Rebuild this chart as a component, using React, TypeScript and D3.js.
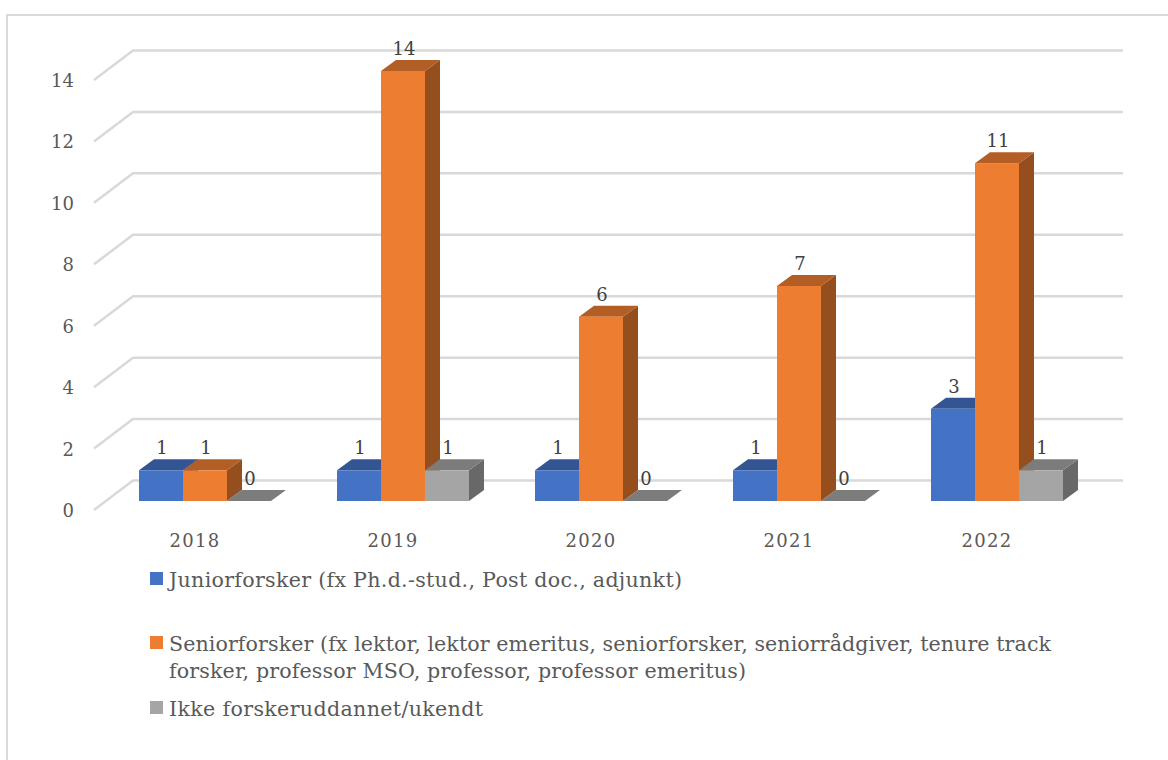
import * as d3 from "d3";

const years = ["2018", "2019", "2020", "2021", "2022"];
const seriesNames = ["junior", "senior", "other"];
const junior = [1, 1, 1, 1, 3];
const senior = [1, 14, 6, 7, 11];
const other = [0, 1, 0, 0, 1];
const yTicks = [0, 2, 4, 6, 8, 10, 12, 14];
const legendLines = [
  { key: "junior", lines: ["Juniorforsker (fx Ph.d.-stud., Post doc., adjunkt)"], widths: [513] },
  {
    key: "senior",
    lines: [
      "Seniorforsker (fx lektor, lektor emeritus, seniorforsker, seniorrådgiver, tenure track",
      "forsker, professor MSO, professor, professor emeritus)",
    ],
    widths: [882, 577],
  },
  { key: "other", lines: ["Ikke forskeruddannet/ukendt"], widths: [314] },
];

const colors: Record<string, { front: string; top: string; side: string }> = {
  junior: { front: "#4472C4", top: "#335593", side: "#2a4a80" },
  senior: { front: "#ED7D31", top: "#B25E25", side: "#954F1F" },
  other: { front: "#A5A5A5", top: "#7C7C7C", side: "#686868" },
};

const serif = "'DejaVu Serif', serif";

// 3D offset of the bars and of the back wall
const depthX = 15;
const depthY = -11;
const wallX = 133;
const wallLeft = 94;
const wallRight = 1123;
const wallDy = -20.5;
const wallFloorDy = 9;

export default function App() {
  const x0 = d3.scaleBand<string>().domain(years).range([106, 1096]).paddingInner(1 / 3).paddingOuter(1 / 6);
  const x1 = d3.scaleBand<string>().domain(seriesNames).range([0, x0.bandwidth()]);
  const y = d3.scaleLinear().domain([0, 14]).range([501, 71]);
  const values: Record<string, number[]> = { junior, senior, other };
  const line = d3.line();

  return (
    <div style={{ position: "fixed", left: 0, top: 0 }}>
      <svg width={1168} height={760} style={{ display: "block", background: "#fff" }}>
        <rect x={7} y={15} width={1180} height={770} fill="#fff" stroke="#D9D9D9" strokeWidth={2} />

        {yTicks.map((t) => (
          <g key={t}>
            <path
              d={line([
                [wallLeft, y(t) + wallFloorDy],
                [wallX, y(t) + wallDy],
                [wallRight, y(t) + wallDy],
              ]) || ""}
              fill="none"
              stroke="#D9D9D9"
              strokeWidth={2.5}
            />
            <text
              x={74}
              y={y(t) + 16}
              textAnchor="end"
              fontFamily={serif}
              fontSize={18}
              fill="#595959"
            >
              {t}
            </text>
          </g>
        ))}

        {years.map((yr, i) => (
          <g key={yr}>
            {seriesNames.map((s) => {
              const v = values[s][i];
              const left = (x0(yr) || 0) + (x1(s) || 0);
              const right = left + x1.bandwidth();
              const base = y(0);
              const top = y(v);
              const c = colors[s];
              return (
                <g key={s}>
                  <path
                    d={line([[right, base], [right + depthX, base + depthY], [right + depthX, top + depthY], [right, top]]) + "Z"}
                    fill={c.side}
                  />
                  <path
                    d={line([[left, top], [left + depthX, top + depthY], [right + depthX, top + depthY], [right, top]]) + "Z"}
                    fill={c.top}
                  />
                  <rect x={left} y={top} width={x1.bandwidth()} height={base - top} fill={c.front} />
                </g>
              );
            })}
            <text
              x={(x0(yr) || 0) + x0.bandwidth() / 2 - 10}
              y={547}
              textAnchor="middle"
              fontFamily={serif}
              fontSize={18}
              letterSpacing={1.3}
              fill="#595959"
            >
              {yr}
            </text>
          </g>
        ))}

        {years.map((yr, i) =>
          seriesNames.map((s) => {
            const v = values[s][i];
            return (
              <text
                key={yr + s}
                x={(x0(yr) || 0) + (x1(s) || 0) + x1.bandwidth() / 2 + 1}
                y={y(v) - 16}
                textAnchor="middle"
                fontFamily={serif}
                fontSize={18}
                fill="#404040"
              >
                {v}
              </text>
            );
          })
        )}

        {legendLines.map((l, i) => {
          const squareY = [572, 636, 701][i];
          return (
            <g key={l.key}>
              <rect x={150} y={squareY} width={13} height={13} fill={colors[l.key].front} />
              {l.lines.map((txt, j) => (
                <text
                  key={j}
                  x={169}
                  y={squareY + 15 + j * 27}
                  fontFamily={serif}
                  fontSize={20.6}
                  textLength={l.widths[j]}
                  fill="#595959"
                >
                  {txt}
                </text>
              ))}
            </g>
          );
        })}
      </svg>
    </div>
  );
}
